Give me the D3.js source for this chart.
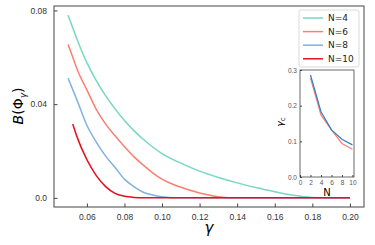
<!DOCTYPE html>
<meta charset="utf-8">
<style>
body { margin: 0; background: #fff; }
svg { font-family: "DejaVu Sans", sans-serif; }
.tick text { fill: #333; }
</style>
<svg width="375" height="245"></svg>
<script src="https://d3js.org/d3.v7.min.js"></script>
<script>

// gamma grid shared by all curves
var gamma = [0.05, 0.0525, 0.055, 0.06, 0.065, 0.07, 0.075, 0.08, 0.085, 0.09, 0.095,
             0.10, 0.11, 0.12, 0.13, 0.14, 0.15, 0.16, 0.17, 0.18, 0.19, 0.20];

var bN4  = [0.078, 0.0725, 0.0672, 0.0577, 0.050, 0.0435, 0.038, 0.033, 0.0287, 0.025, 0.0217,
            0.0189, 0.0148, 0.0114, 0.0087, 0.0064, 0.0044, 0.0026, 0.0011, 0.0002, 0, 0];
var bN6  = [0.0655, 0.060, 0.0545, 0.0461, 0.0378, 0.0315, 0.0265, 0.0218, 0.0176, 0.014, 0.0107,
            0.008, 0.0045, 0.0021, 0.0005, 0, 0, 0, 0, 0, 0, 0];
var bN8  = [0.0511, 0.0462, 0.0412, 0.031, 0.0238, 0.0178, 0.013, 0.008, 0.0048, 0.0024, 0.0012,
            0.0005, 0, 0, 0, 0, 0, 0, 0, 0, 0, 0];
var bN10 = [null, 0.0315, 0.0255, 0.0163, 0.0095, 0.0048, 0.0019, 0.0007, 0.0002, 0, 0,
            0, 0, 0, 0, 0, 0, 0, 0, 0, 0, 0];

var seriesNames = ["N=4", "N=6", "N=8", "N=10"];
var seriesColors = ["#76d7c4", "#fa7f72", "#7fb3e0", "#e3101e"];

// inset: critical gamma vs N
var insetN = [2, 4, 6, 8, 10];
var gcBlue = [0.286, 0.183, 0.132, 0.106, 0.090];
var gcRed  = [0.277, 0.174, 0.132, 0.094, 0.078];

var xTicks = [0.06, 0.08, 0.10, 0.12, 0.14, 0.16, 0.18, 0.20];
var yTicks = [0, 0.04, 0.08];
var insetXTicks = [0, 2, 4, 6, 8, 10];
var insetYTicks = [0, 0.1, 0.2, 0.3];

var svg = d3.select("svg");
var m = {left: 54, top: 6, right: 364, bottom: 207};

var series = [bN4, bN6, bN8, bN10].map(function(vals, i) {
  return {name: seriesNames[i], color: seriesColors[i],
          pts: gamma.map(function(g, j) { return [g, vals[j]]; }).filter(function(p) { return p[1] !== null; })};
});

// matplotlib-like 5% margins
var xMin = d3.min(gamma), xMax = d3.max(gamma);
var yMax = d3.max(bN4), yMin = 0;
var x = d3.scaleLinear()
    .domain([xMin - 0.05 * (xMax - xMin), xMax + 0.05 * (xMax - xMin)])
    .range([m.left, m.right]);
var y = d3.scaleLinear()
    .domain([yMin - 0.05 * (yMax - yMin), yMax + 0.05 * (yMax - yMin)])
    .range([m.bottom, m.top]);

var line = d3.line()
    .x(function(d) { return x(d[0]); })
    .y(function(d) { return y(d[1]); })
    .curve(d3.curveMonotoneX);

svg.selectAll("path.curve")
  .data(series)
  .enter().append("path")
    .attr("class", "curve")
    .attr("fill", "none")
    .attr("stroke", function(d) { return d.color; })
    .attr("stroke-width", 1.5)
    .attr("d", function(d) { return line(d.pts); });

// axes with inward ticks
var xAxis = svg.append("g")
    .attr("transform", "translate(0," + m.bottom + ")")
    .call(d3.axisBottom(x).tickValues(xTicks).tickSizeInner(-3.5).tickSizeOuter(0).tickPadding(7)
      .tickFormat(d3.format(".2f")));
var yAxis = svg.append("g")
    .attr("transform", "translate(" + m.left + ",0)")
    .call(d3.axisLeft(y).tickValues(yTicks).tickSizeInner(-3.5).tickSizeOuter(0).tickPadding(7)
      .tickFormat(function(d) { return d === 0 ? "0.0" : d3.format(".2f")(d); }));
[xAxis, yAxis].forEach(function(a) {
  a.select(".domain").remove();
  a.selectAll("line").attr("stroke", "#444");
  a.selectAll("text").attr("font-size", 8.5);
});

svg.append("rect")
    .attr("x", m.left).attr("y", m.top)
    .attr("width", m.right - m.left).attr("height", m.bottom - m.top)
    .attr("fill", "none").attr("stroke", "#444").attr("stroke-width", 1);

svg.append("text")
    .attr("x", (m.left + m.right) / 2).attr("y", 233)
    .attr("text-anchor", "middle")
    .attr("font-size", 15).attr("font-style", "italic")
    .text("γ");

svg.append("text")
    .attr("transform", "translate(23,106) rotate(-90)")
    .attr("text-anchor", "middle")
    .attr("font-size", 14)
    .html('<tspan font-style="italic">B</tspan>(Φ<tspan font-style="italic" font-size="9" dy="3">γ</tspan><tspan dy="-3">)</tspan>');

// legend
var lg = svg.append("g").attr("transform", "translate(299,10)");
lg.append("rect")
    .attr("width", 60).attr("height", 57).attr("rx", 2)
    .attr("fill", "#fff").attr("stroke", "#d0d0d0").attr("stroke-width", 0.8);
series.forEach(function(s, i) {
  var yy = 8 + i * 13.6;
  lg.append("line").attr("x1", 4).attr("x2", 24).attr("y1", yy).attr("y2", yy)
    .attr("stroke", s.color).attr("stroke-width", 1.5);
  lg.append("text").attr("x", 29).attr("y", yy).attr("dy", "0.35em")
    .attr("font-size", 9).attr("fill", "#222").text(s.name);
});

// inset
var im = {left: 300, top: 70, right: 354, bottom: 177};
var ix = d3.scaleLinear().domain([0, 10.3]).range([im.left, im.right]);
var iy = d3.scaleLinear().domain([0, 0.3]).range([im.bottom, im.top]);

svg.append("rect")
    .attr("x", im.left).attr("y", im.top)
    .attr("width", im.right - im.left).attr("height", im.bottom - im.top)
    .attr("fill", "#fff").attr("stroke", "#444").attr("stroke-width", 0.8);

var iline = d3.line()
    .x(function(d) { return ix(d[0]); })
    .y(function(d) { return iy(d[1]); });

[[gcRed, "#fa7f72"], [gcBlue, "#2f80c8"]].forEach(function(p) {
  svg.append("path")
    .attr("fill", "none").attr("stroke", p[1]).attr("stroke-width", 1.2)
    .attr("d", iline(insetN.map(function(n, i) { return [n, p[0][i]]; })));
});

var ixAxis = svg.append("g")
    .attr("transform", "translate(0," + im.bottom + ")")
    .call(d3.axisBottom(ix).tickValues(insetXTicks).tickSizeInner(-2).tickSizeOuter(0).tickPadding(3));
var iyAxis = svg.append("g")
    .attr("transform", "translate(" + im.left + ",0)")
    .call(d3.axisLeft(iy).tickValues(insetYTicks).tickSizeInner(-2).tickSizeOuter(0).tickPadding(3)
      .tickFormat(d3.format(".1f")));
[ixAxis, iyAxis].forEach(function(a) {
  a.select(".domain").remove();
  a.selectAll("line").attr("stroke", "#444");
  a.selectAll("text").attr("font-size", 6.5).style("fill", "#555");
});

svg.append("text")
    .attr("x", 327).attr("y", 196)
    .attr("text-anchor", "middle").attr("font-size", 10)
    .text("N");

svg.append("text")
    .attr("transform", "translate(283,122) rotate(-90)")
    .attr("text-anchor", "middle").attr("font-size", 9.5)
    .html('<tspan font-style="italic">γ</tspan><tspan font-size="7" dy="2">c</tspan>');

</script>
